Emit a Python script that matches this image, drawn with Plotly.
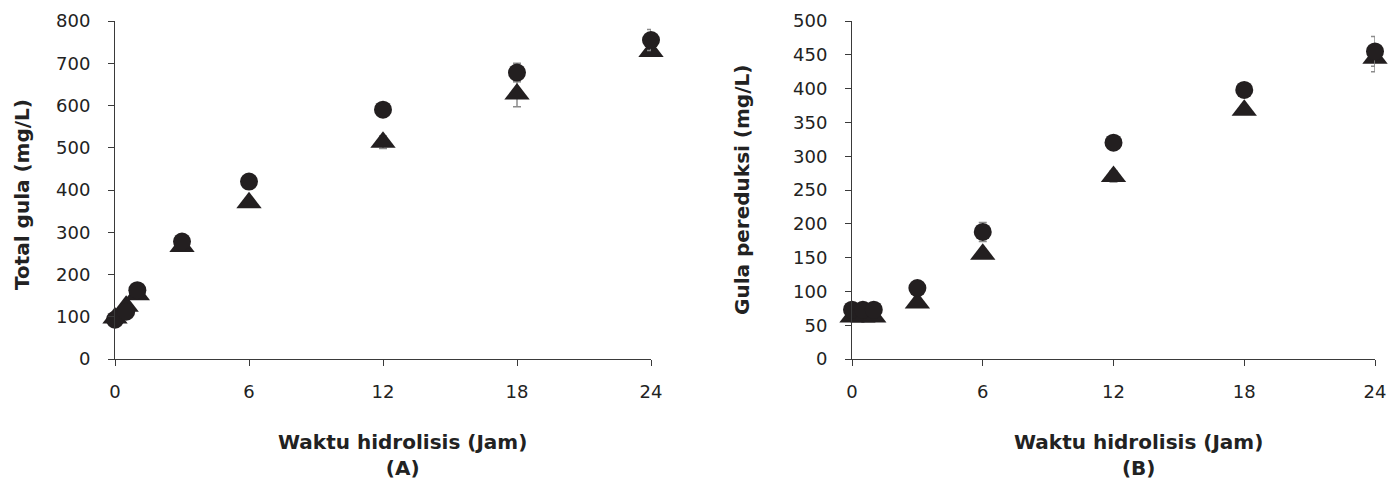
import plotly.graph_objects as go

# Hours
time_h = [0, 0.5, 1, 3, 6, 12, 18, 24]

# Panel A: Total gula (mg/L)
totalA_circle = [93, 112, 163, 278, 420, 590, 678, 755]
totalA_circle_err = [5, 5, 5, 6, 8, 8, 22, 25]
totalA_tri = [97, 125, 152, 266, 370, 513, 627, 728]
totalA_tri_err = [5, 6, 6, 6, 8, 15, 30, 10]

# Panel B: Gula pereduksi (mg/L)
redB_circle = [73, 73, 73, 105, 188, 320, 398, 455]
redB_circle_err = [3, 3, 3, 4, 14, 5, 5, 22]
redB_tri = [62, 62, 62, 83, 155, 270, 368, 445]
redB_tri_err = [3, 3, 3, 3, 5, 8, 6, 20]

x_ticks = [0, 6, 12, 18, 24]
yA_ticks = list(range(0, 801, 100))
yB_ticks = list(range(0, 501, 50))

MARK = "#231f20"
AX = "#3a3a3a"
ERR = "#8c8c8c"
FONT = "DejaVu Sans"

fig = go.Figure()

def add(x, y, err, sym, size, xa, ya):
    fig.add_trace(go.Scatter(
        x=x, y=y, mode="markers", xaxis=xa, yaxis=ya,
        marker=dict(symbol=sym, size=size, color=MARK, line=dict(width=0)),
        error_y=dict(type="data", array=err, visible=True, color=ERR,
                     thickness=1.5, width=4),
        cliponaxis=False, showlegend=False))

add(time_h, totalA_tri, totalA_tri_err, "triangle-up", 22, "x", "y")
add(time_h, totalA_circle, totalA_circle_err, "circle", 18, "x", "y")
add(time_h, redB_tri, redB_tri_err, "triangle-up", 22, "x2", "y2")
add(time_h, redB_circle, redB_circle_err, "circle", 18, "x2", "y2")

y0 = (483 - 359) / 483
y1 = (483 - 21) / 483

tickfont = dict(family=FONT, size=18, color="#222")
xaxis_common = dict(range=[0, 24], tickvals=x_ticks, showgrid=False, zeroline=False,
                    showline=True, linecolor=AX, linewidth=1, ticks="outside",
                    ticklen=6, tickcolor=AX, tickfont=tickfont, automargin=False,
                    ticklabelstandoff=10)
yaxis_common = dict(showgrid=False, zeroline=False, showline=True, linecolor=AX, linewidth=1,
                    ticks="outside", ticklen=6, tickcolor=AX, tickfont=tickfont,
                    automargin=False, ticklabelstandoff=14)

fig.update_layout(
    width=1390, height=483,
    margin=dict(l=0, r=0, t=0, b=0),
    paper_bgcolor="white", plot_bgcolor="white",
    xaxis=dict(domain=[115 / 1390, 651 / 1390], anchor="y", **xaxis_common),
    yaxis=dict(domain=[y0, y1], anchor="x", range=[0, 800], tickvals=yA_ticks, **yaxis_common),
    xaxis2=dict(domain=[852 / 1390, 1375 / 1390], anchor="y2", **xaxis_common),
    yaxis2=dict(domain=[y0, y1], anchor="x2", range=[0, 500], tickvals=yB_ticks, **yaxis_common),
)

tfont = dict(family=FONT, size=20, color="#222")
fig.add_annotation(text="<b>Waktu hidrolisis (Jam)</b><br><b>(A)</b>", xref="paper", yref="paper",
                   x=402 / 1390, y=(483 - 455) / 483, showarrow=False, font=tfont,
                   align="center", xanchor="center", yanchor="middle")
fig.add_annotation(text="<b>Waktu hidrolisis (Jam)</b><br><b>(B)</b>", xref="paper", yref="paper",
                   x=1138 / 1390, y=(483 - 455) / 483, showarrow=False, font=tfont,
                   align="center", xanchor="center", yanchor="middle")
fig.add_annotation(text="<b>Total gula (mg/L)</b>", xref="paper", yref="paper",
                   x=22 / 1390, y=(483 - 195) / 483, showarrow=False, font=tfont,
                   textangle=-90, xanchor="center", yanchor="middle")
fig.add_annotation(text="<b>Gula pereduksi (mg/L)</b>", xref="paper", yref="paper",
                   x=742 / 1390, y=(483 - 190) / 483, showarrow=False, font=tfont,
                   textangle=-90, xanchor="center", yanchor="middle")

fig.write_html("out.html", config={"displayModeBar": False},
               post_script="document.body.style.margin='0';")
